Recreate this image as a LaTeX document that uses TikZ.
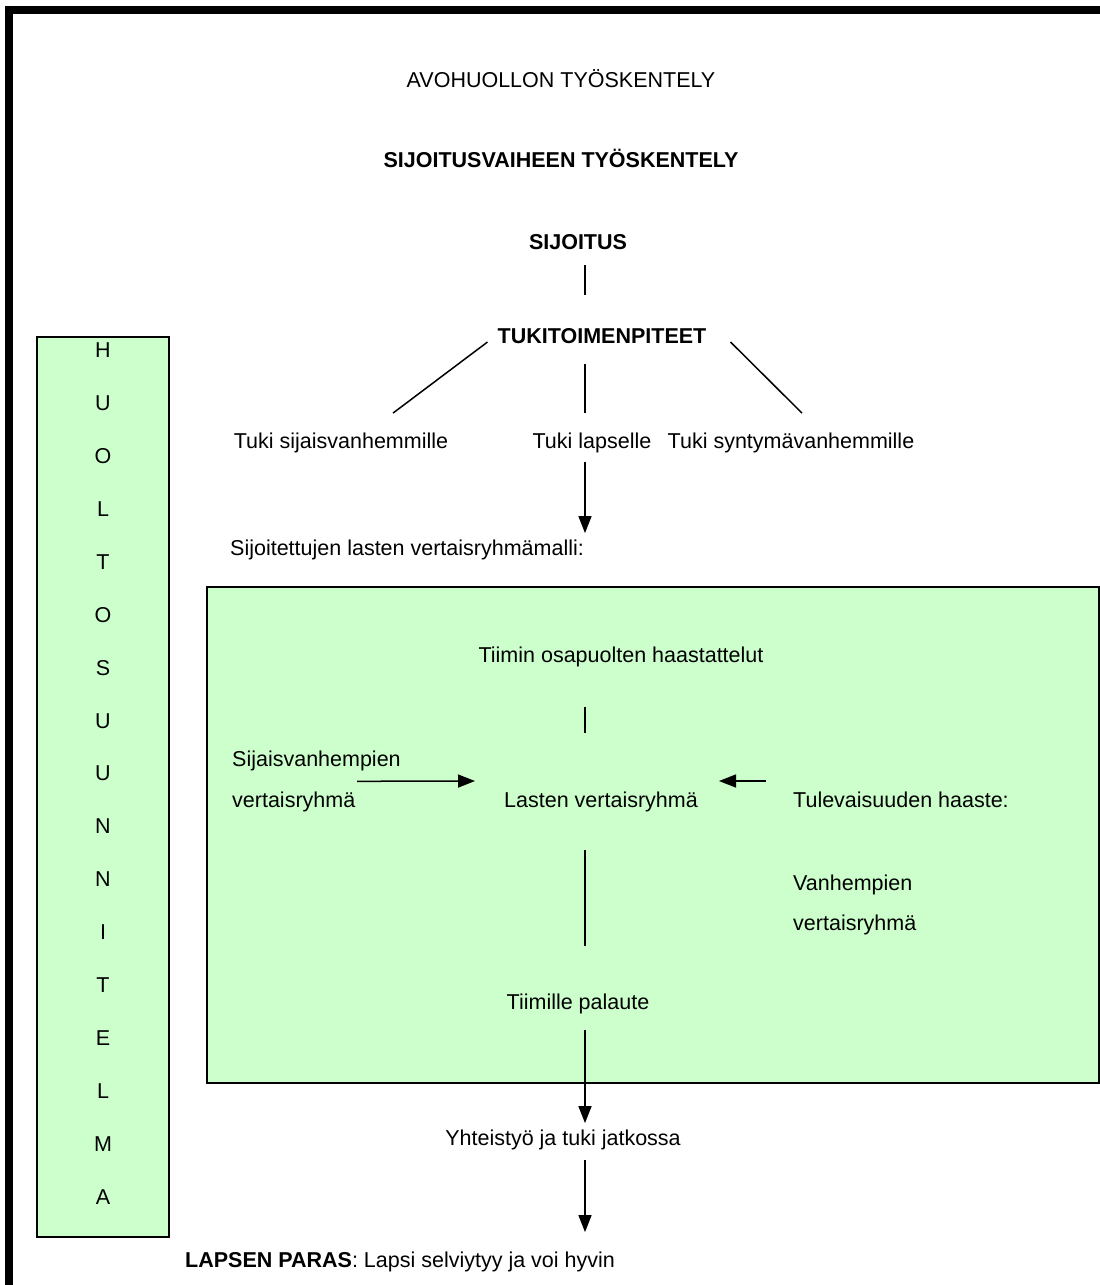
\documentclass[tikz,border=0pt]{standalone}
\usepackage{fontspec}
\setmainfont{Liberation Sans}
\usetikzlibrary{arrows.meta, calc, positioning}
\definecolor{mint}{HTML}{CCFFCC}

\begin{document}
\begin{tikzpicture}[
    x=1pt, y=-1pt,
    >={Triangle[length=17pt, width=13pt]},
    txt/.style={inner sep=0pt, font=\fontsize{21.5}{41}\selectfont,
        text height=15.4pt, text depth=0pt},
    bold/.style={txt, font=\fontsize{21.5}{41}\selectfont\bfseries},
    lines/.style={inner sep=0pt, align=left, anchor=north west,
        font=\fontsize{21.5}{#1}\selectfont},
    link/.style={line width=1.5pt, draw=black},
    flow/.style={link, ->},
    panel/.style={draw=black, fill=mint, line width=2.4pt, inner sep=0pt}
]
\useasboundingbox (0,0) rectangle (1100,1285);

%% Page frame, top and left only
\draw[line width=8pt] (9,1300) -- (9,10) -- (1110,10);

%% Headings
\node[txt]  (avo)   at (561,80)  {AVOHUOLLON TYÖSKENTELY};
\node[bold] (vaihe) at (561,160) {SIJOITUSVAIHEEN TYÖSKENTELY};
\node[bold] (sij)   at (578,242) {SIJOITUS};
\node[bold] (tuki)  at (602,336) {TUKITOIMENPITEET};

%% Three kinds of support
\node[txt] (sijais) at (341,441) {Tuki sijaisvanhemmille};
\node[txt] (lapse)  at (592,441) {Tuki lapselle};
\node[txt] (synty)  at (791,441) {Tuki syntymävanhemmille};
\node[txt, anchor=west] (malli) at (230,548) {Sijoitettujen lasten vertaisryhmämalli:};

%% Care plan column on the left
\node[panel, minimum width=132pt, minimum height=900pt] (plan) at (103,787) {};
\foreach \ch [count=\i from 0] in {H,U,O,L,T,O,S,U,U,N,N,I,T,E,L,M,A}
    \node[txt] (plan\i) at (103,{350+52.9*\i}) {\ch};

%% Peer group model panel
\node[panel, minimum width=892pt, minimum height=496pt] (model) at (653,835) {};
\node[txt] (haast)   at (621,655) {Tiimin osapuolten haastattelut};
\node[lines=41] (sijv) at (232,750.3) {Sijaisvanhempien\\vertaisryhmä};
\node[txt] (lasten)  at (601,800) {Lasten vertaisryhmä};
\node[txt, anchor=west] (tul) at (793,800) {Tulevaisuuden haaste:};
\node[lines=40] (vanh) at (793,874.3) {Vanhempien\\vertaisryhmä};
\node[txt] (palaute) at (578,1002) {Tiimille palaute};

%% Follow-up and goal
\node[txt] (yht) at (563,1138) {Yhteistyö ja tuki jatkossa};
\node[txt, anchor=west] (paras) at (185,1260) {\textbf{LAPSEN PARAS}: Lapsi selviytyy ja voi hyvin};

%% Connectors
\coordinate (spine) at (585,0);
\draw[link] ($(spine |- sij.south)+(0,15)$) -- ($(spine |- tuki.north)+(0,-33)$);
\draw[link] ([shift={(-10,6)}]tuki.west) -- ([shift={(52,-20)}]sijais.north);
\draw[link] ($(spine |- tuki.south)+(0,20)$) -- ($(spine |- lapse.north)+(0,-20)$);
\draw[link] ([shift={(24,6)}]tuki.east) -- ([shift={(11,-20)}]synty.north);
\draw[flow] ($(spine |- lapse.south)+(0,13)$) -- ($(spine |- malli.north)+(0,-7)$);

\draw[link] ($(spine |- haast.south)+(0,44)$) -- ($(spine |- lasten.north)+(0,-59)$);
\draw[flow] ([shift={(125,31)}]sijv.north west) -- ([shift={(-29,-19)}]lasten.west);
\draw[flow] ([shift={(-27,-19)}]tul.west) -- ([shift={(21,-19)}]lasten.east);
\draw[link] ($(spine |- lasten.south)+(0,42)$) -- ($(spine |- palaute.north)+(0,-48)$);

\draw[flow] ($(spine |- palaute.south)+(0,20)$) -- ($(spine |- yht.north)+(0,-7)$);
\draw[flow] ($(spine |- yht.south)+(0,14)$) -- ($(spine |- paras.north)+(0,-20)$);

\end{tikzpicture}
\end{document}
